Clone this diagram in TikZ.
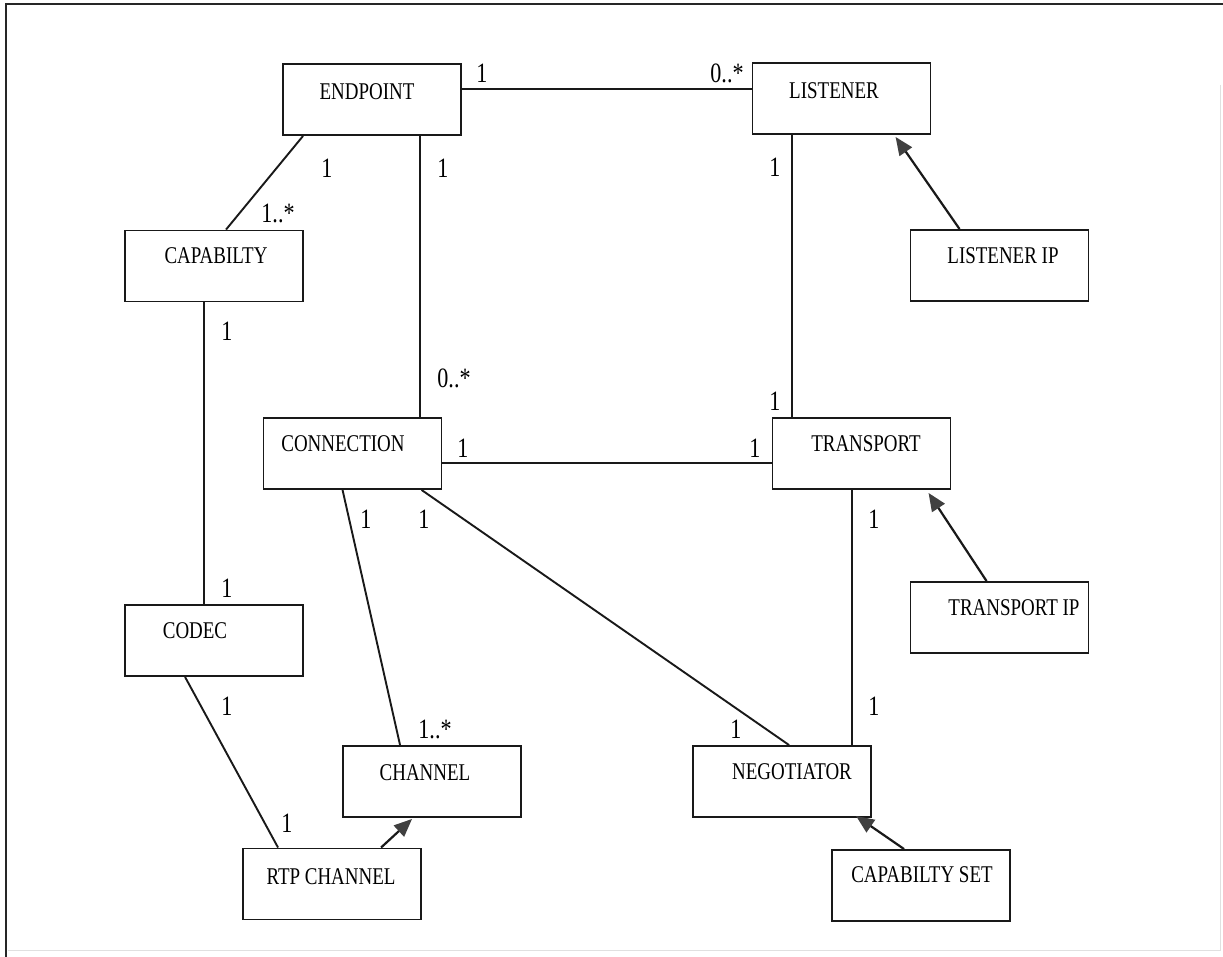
\documentclass[tikz,border=0pt]{standalone}
\usepackage{fontspec}
\setmainfont[FakeStretch=0.79]{Liberation Serif}
\usetikzlibrary{arrows.meta,calc}
\begin{document}
\begin{tikzpicture}[x=1pt,y=-1pt,
  box/.style={draw=black!90, line width=1.9pt, minimum width=178pt, minimum height=71pt, inner sep=0pt},
  boxtext/.style={anchor=base, font=\fontsize{24}{24}\selectfont, inner sep=0pt},
  multlabel/.style={anchor=base, font=\fontsize{28}{28}\selectfont, inner sep=0pt},
  link/.style={draw=black!90, line width=1.9pt},
  genarrow/.style={draw=black!90, line width=2.2pt, -{Triangle[length=18pt,width=15pt,color=black!75]}},
]
% canvas and frame
\useasboundingbox (0,0) rectangle (1223,957);
\fill[white] (0,0) rectangle (1223,957);
\draw[black!85, line width=2.6pt] (6,957) -- (6,4) -- (1223,4);
\draw[black!12, line width=1pt] (1220,85) -- (1220,950) -- (8,950);

% classes
\node[box] (endpoint) at (372,99.5) {};
\node[box] (listener) at (841.5,98.5) {};
\node[box] (cap)      at (214,266) {};
\node[box] (lip)      at (999.5,265.5) {};
\node[box] (conn)     at (352.5,453.5) {};
\node[box] (trans)    at (861.5,453.5) {};
\node[box] (tip)      at (999.5,617.5) {};
\node[box] (codec)    at (214,640.5) {};
\node[box] (channel)  at (432,781.5) {};
\node[box] (neg)      at (782,781.5) {};
\node[box] (rtp)      at (332,884) {};
\node[box] (capset)   at (921,885.5) {};

% class names
\node[boxtext] (endpoint-t) at (367,100) {ENDPOINT};
\node[boxtext] (listener-t) at (834,99) {LISTENER};
\node[boxtext] (cap-t)      at (216,264) {CAPABILTY};
\node[boxtext] (lip-t)      at (1003,264) {LISTENER IP};
\node[boxtext] (conn-t)     at (343,451) {CONNECTION};
\node[boxtext] (trans-t)    at (866,451) {TRANSPORT};
\node[boxtext] (tip-t)      at (1014,615) {TRANSPORT IP};
\node[boxtext] (codec-t)    at (195,638) {CODEC};
\node[boxtext] (channel-t)  at (425,780) {CHANNEL};
\node[boxtext] (neg-t)      at (792,779) {NEGOTIATOR};
\node[boxtext] (rtp-t)      at (331,884) {RTP CHANNEL};
\node[boxtext] (capset-t)   at (922,882) {CAPABILTY SET};

% associations
\draw[link] ([yshift=-26pt]endpoint.north east) coordinate (a1) -- (a1 -| listener.west);
\draw[link] ([xshift=21pt]endpoint.south west) -- ([xshift=102pt]cap.north west);
\draw[link] ([xshift=138pt]endpoint.south west) coordinate (a3) -- (a3 |- conn.north);
\draw[link] ([xshift=40pt]listener.south west) coordinate (a4) -- (a4 |- trans.north);
\draw[link] ([xshift=80pt]cap.south west) coordinate (a5) -- (a5 |- codec.north);
\draw[link] ([yshift=-46pt]conn.north east) coordinate (a6) -- (a6 -| trans.west);
\draw[link] ([xshift=80pt]conn.south west) -- ([xshift=58pt]channel.north west);
\draw[link] ([xshift=159pt]conn.south west) -- ([xshift=97pt]neg.north west);
\draw[link] ([xshift=80pt]trans.south west) coordinate (a9) -- (a9 |- neg.north);
\draw[link] ([xshift=61pt]codec.south west) -- ([xshift=36pt]rtp.north west);

% generalisations
\draw[genarrow] ([xshift=50pt]lip.north west) -- ([xshift=144pt,yshift=-2pt]listener.south west);
\draw[genarrow] ([xshift=77pt]tip.north west) -- ([xshift=157pt,yshift=-3pt]trans.south west);
\draw[genarrow] ([xshift=139pt]rtp.north west) -- ([xshift=70pt,yshift=-1pt]channel.south west);
\draw[genarrow] ([xshift=73pt]capset.north west) -- ([xshift=164pt,yshift=2pt]neg.south west);

% multiplicities
\node[multlabel] (m1)  at (482,83)  {1};
\node[multlabel] (m2)  at (727,83)  {0..*};
\node[multlabel] (m3)  at (327,178) {1};
\node[multlabel] (m4)  at (278,223) {1..*};
\node[multlabel] (m5)  at (443,178) {1};
\node[multlabel] (m6)  at (775,177) {1};
\node[multlabel] (m7)  at (227,341) {1};
\node[multlabel] (m8)  at (454,387) {0..*};
\node[multlabel] (m9)  at (227,597) {1};
\node[multlabel] (m10) at (463,457) {1};
\node[multlabel] (m11) at (775,410) {1};
\node[multlabel] (m12) at (755,457) {1};
\node[multlabel] (m13) at (366,528) {1};
\node[multlabel] (m14) at (424,528) {1};
\node[multlabel] (m15) at (874,528) {1};
\node[multlabel] (m16) at (227,715) {1};
\node[multlabel] (m17) at (435,738) {1..*};
\node[multlabel] (m18) at (287,832) {1};
\node[multlabel] (m19) at (736,738) {1};
\node[multlabel] (m20) at (874,715) {1};
\end{tikzpicture}
\end{document}
